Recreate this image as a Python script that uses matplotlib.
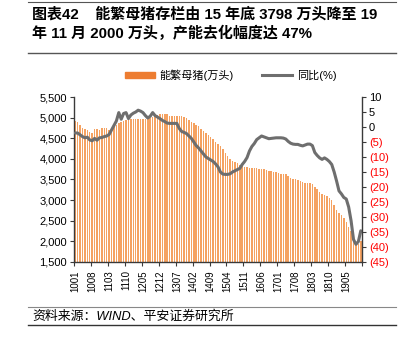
import numpy as np
import matplotlib.pyplot as plt
from matplotlib.lines import Line2D
from matplotlib.patches import Patch

plt.rcParams['font.family'] = ['Liberation Sans', 'Noto Sans CJK SC']

# monthly sow inventory (10k head) and YoY change (%), 2010-01 .. 2019-11
months = [f"{y % 100:02d}{m:02d}" for y in range(2010, 2020) for m in range(1, 13)][:119]

sows = [4918, 4900, 4810, 4750, 4720, 4690, 4650, 4620, 4720, 4715, 4700, 4760,
        4755, 4740, 4690, 4720, 4770, 4820, 4860, 4890, 4920, 4940, 4955, 4966,
        4966, 4966, 4966, 4966, 4966, 4966, 4966, 4990, 5010, 5030, 5060, 5078,
        5078, 5078, 5078, 5040, 5040, 5035, 5035, 5030, 5030, 5010, 4980, 4940,
        4900, 4860, 4830, 4790, 4730, 4670, 4620, 4580, 4540, 4470, 4410, 4350,
        4300, 4230, 4140, 4060, 4000, 3950, 3920, 3890, 3850, 3830, 3800, 3798,
        3775, 3775, 3770, 3770, 3765, 3750, 3745, 3730, 3715, 3705, 3690, 3670,
        3655, 3645, 3640, 3625, 3585, 3545, 3520, 3500, 3485, 3470, 3430, 3425,
        3425, 3420, 3380, 3310, 3260, 3200, 3160, 3130, 3100, 3060, 3000, 2880,
        2760, 2690, 2630, 2560, 2460, 2360, 2250, 2100, 1960, 1940, 2000]

yoy = [-2.0, -2.0, -2.6, -3.2, -3.6, -3.4, -4.3, -4.6, -3.8, -4.4, -3.6, -3.5,
       -3.2, -3.0, -2.5, -1.0, 0.5, 2.0, 4.8, 2.6, 4.5, 4.8, 2.8, 4.0,
       4.6, 5.0, 5.6, 5.3, 4.8, 3.8, 3.0, 3.6, 4.8, 3.8, 3.3, 2.8,
       2.2, 1.8, 1.3, 1.2, 1.2, 1.2, 1.2, -0.5, -1.5, -1.8, -2.2, -3.0,
       -3.8, -5.0, -6.2, -7.0, -8.0, -9.0, -10.0, -10.5, -11.0, -11.5, -12.3, -13.3,
       -15.0, -15.7, -15.8, -15.8, -15.6, -15.0, -14.6, -14.2, -13.8, -12.5, -11.5, -10.2,
       -8.0, -6.5, -5.5, -4.2, -3.6, -3.0, -3.3, -3.6, -3.9, -3.8, -3.7, -3.6,
       -3.6, -3.6, -3.7, -4.0, -4.8, -5.4, -5.7, -5.8, -5.8, -6.1, -6.3, -6.0,
       -5.7, -5.7, -6.2, -8.5, -9.5, -10.3, -10.8, -10.3, -10.8, -11.5, -12.5, -15.0,
       -18.0, -21.3, -22.3, -23.5, -24.0, -26.7, -31.3, -37.5, -39.1, -38.2, -34.6]

left_ticks = list(range(1500, 5501, 500))
right_ticks = list(range(10, -46, -5))

BAR_C = '#F5A261'
LINE_C = '#6E6E6E'
AX_C = '#3A3A3A'

fig = plt.figure(figsize=(4.06, 3.43), dpi=100)
ax = fig.add_axes([0.1823, 0.2362, 0.7093, 0.4810])
ax2 = ax.twinx()

x = np.arange(len(months))
ax.bar(x, sows, width=0.62, color=BAR_C, linewidth=0)
ax2.plot(x, yoy, color=LINE_C, lw=2.2, solid_capstyle='round')

ax.set_xlim(-0.5, len(months) - 0.5)
ax.set_ylim(1500, 5500)
ax2.set_ylim(-45, 10)

ax.set_yticks(left_ticks)
ax.set_yticklabels([f"{v:,}" for v in left_ticks], fontsize=8)
ax2.set_yticks(right_ticks)
ax2.set_yticklabels([str(v) if v >= 0 else f"({-v})" for v in right_ticks], fontsize=8)
for lbl, v in zip(ax2.get_yticklabels(), right_ticks):
    lbl.set_color('red' if v < 0 else 'black')

# labels every 7 months, tick marks on category boundaries
lab_pos = x[::7]
ax.set_xticks(lab_pos)
ax.set_xticklabels([months[i] for i in lab_pos], rotation=90, fontsize=7)
ax.set_xticks(np.arange(-0.5, len(months), 7), minor=True)
ax.tick_params(axis='x', which='major', length=0, pad=6)
ax.tick_params(axis='x', which='minor', length=3, color=AX_C, width=0.8)
ax.tick_params(axis='y', length=3, color=AX_C, width=0.8, pad=2)
ax2.tick_params(axis='y', length=3, color=AX_C, width=0.8, pad=2)

for a in (ax, ax2):
    a.spines['top'].set_visible(False)
    for s in ('left', 'right', 'bottom'):
        a.spines[s].set_color(AX_C)
        a.spines[s].set_linewidth(1.0)
ax.spines['right'].set_visible(False)
ax2.spines['left'].set_visible(False)
ax2.spines['bottom'].set_visible(False)

handles = [Patch(color='#ED7D31'), Line2D([0], [0], color=LINE_C, lw=2.2)]
fig.legend(handles, ['能繁母猪(万头)', '同比(%)'], loc='center',
           bbox_to_anchor=(0.568, 0.781), ncol=2, frameon=False, fontsize=8,
           handlelength=2.7, handleheight=0.45, handletextpad=0.4, columnspacing=2.6)

# title block and source note
fig.add_artist(Line2D([0.069, 0.975], [0.994, 0.994], color='#555555', lw=0.8))
fig.add_artist(Line2D([0.069, 0.975], [0.845, 0.845], color='#555555', lw=1.0))
fig.text(0.079, 0.959, '图表42    能繁母猪存栏由 15 年底 3798 万头降至 19', fontsize=10.8,
         fontweight='bold', va='center', ha='left')
fig.text(0.079, 0.904, '年 11 月 2000 万头，产能去化幅度达 47%', fontsize=10.8,
         fontweight='bold', va='center', ha='left')
fig.add_artist(Line2D([0.069, 0.975], [0.105, 0.105], color='#888888', lw=0.8))
fig.add_artist(Line2D([0.069, 0.975], [0.052, 0.052], color='#333333', lw=1.0))
fig.text(0.079, 0.077, '资料来源：WIND、平安证券研究所', fontsize=9.3, style='italic',
         va='center', ha='left')

fig.savefig('out.png', dpi=100)
